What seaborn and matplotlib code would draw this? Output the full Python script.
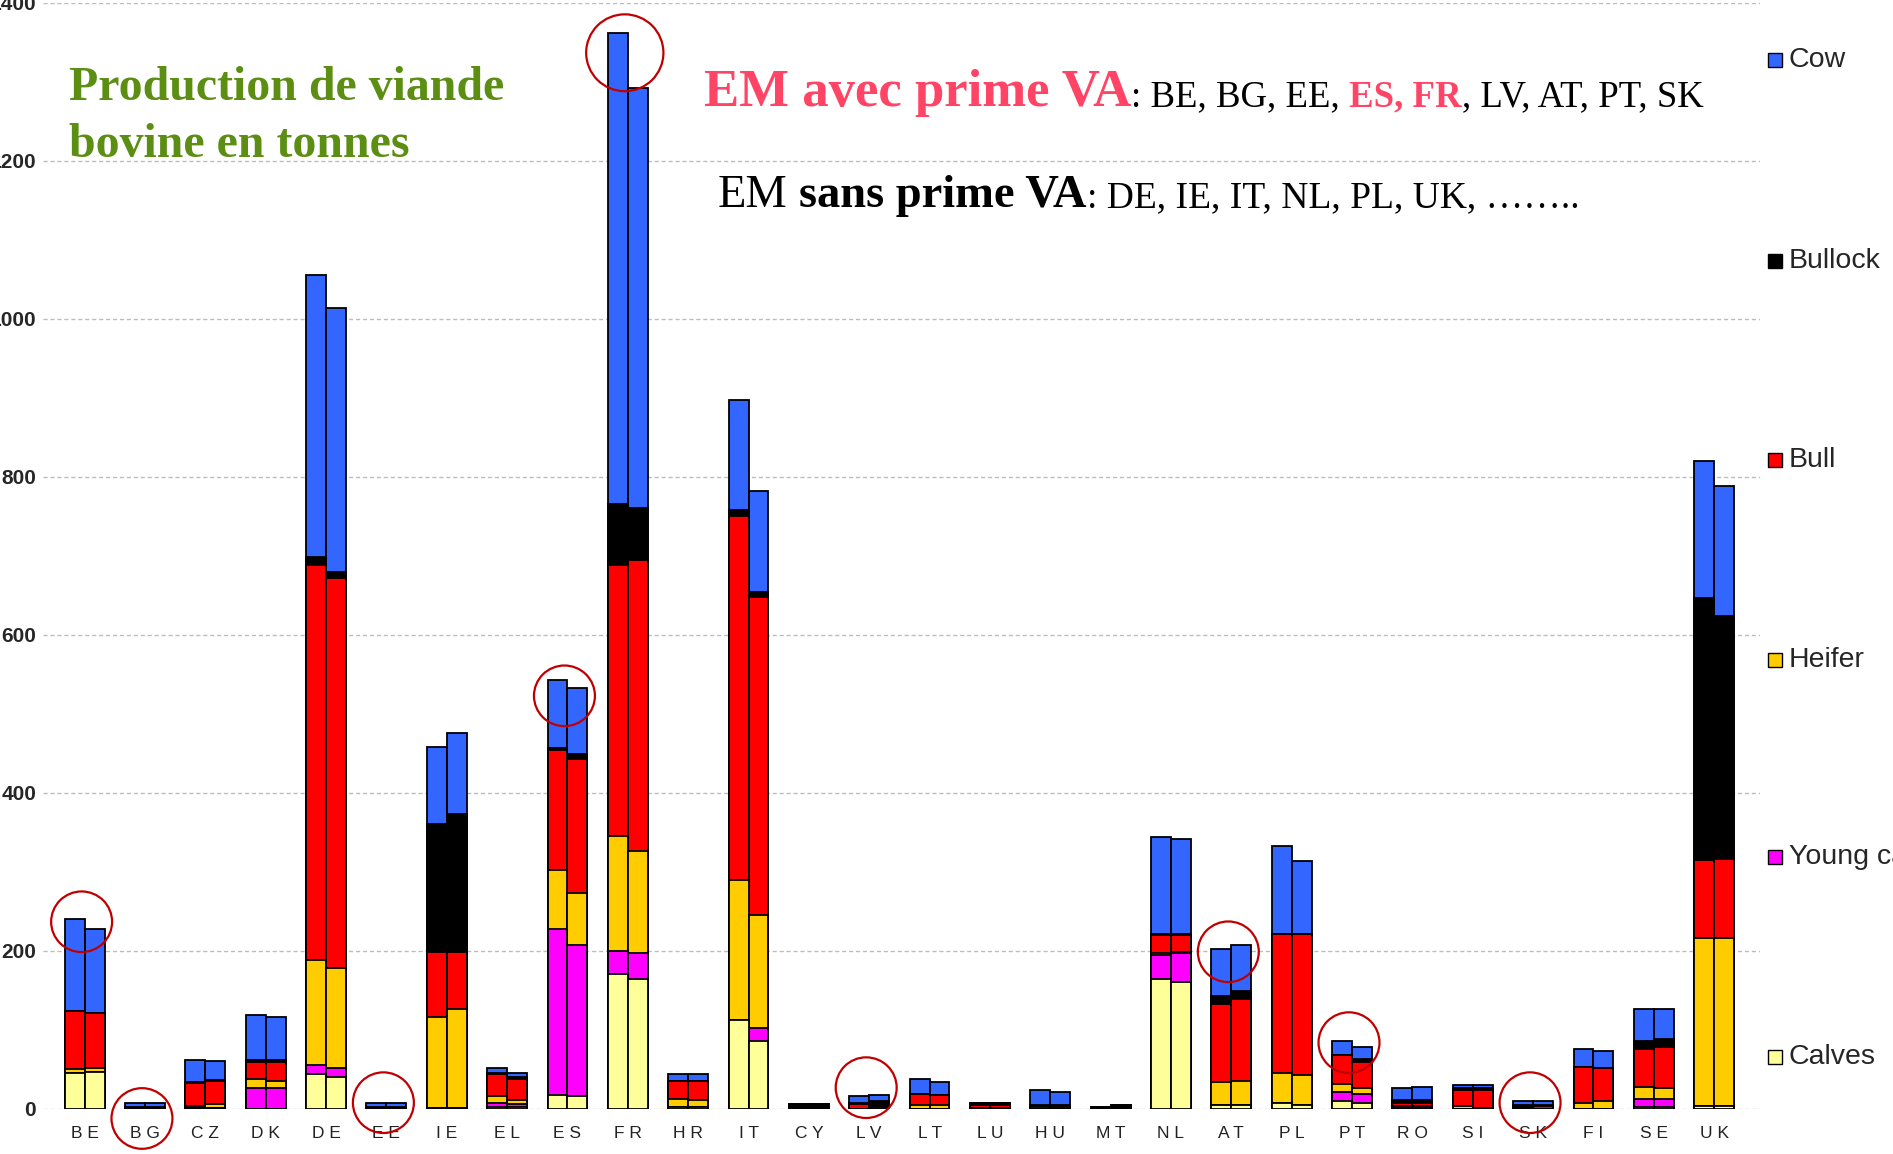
import numpy as np
import pandas as pd
import matplotlib
matplotlib.use("Agg")
import matplotlib.pyplot as plt
from matplotlib.patches import Rectangle, Ellipse
import seaborn as sns

# Production de viande bovine (milliers de tonnes), deux annees par pays
pays = ["BE", "BG", "CZ", "DK", "DE", "EE", "IE", "EL", "ES", "FR", "HR", "IT", "CY", "LV",
        "LT", "LU", "HU", "MT", "NL", "AT", "PL", "PT", "RO", "SI", "SK", "FI", "SE", "UK"]
categories = ["Calves", "Young cattle", "Heifer", "Bull", "Bullock", "Cow"]
couleurs = ["#FFFF99", "#FF00FF", "#FFCC00", "#FF0000", "#000000", "#3366FF"]

# annee 1 (barre de gauche)
calves_1 = [46, 0, 1, 0, 44, 0, 1, 2, 18, 171, 3, 113, 0, 0, 0, 0, 0, 0, 164, 5, 8, 10, 1, 0, 0, 0, 3, 4]
young_1 = [0, 0, 0, 27, 12, 0, 0, 5, 210, 29, 0, 0, 0, 0, 0, 0, 0, 0, 31, 0, 0, 11, 3, 0, 0, 0, 10, 0]
heifer_1 = [5, 0, 3, 11, 132, 0, 116, 9, 74, 146, 10, 177, 0, 0, 5, 1, 2, 0, 3, 29, 38, 11, 0, 4, 0, 8, 15, 212]
bull_1 = [73, 1, 29, 21, 501, 0, 82, 28, 152, 343, 23, 461, 1, 6, 14, 4, 1, 0, 22, 99, 176, 36, 4, 20, 0, 45, 48, 99]
bullock_1 = [0, 2, 1, 3, 10, 2, 162, 2, 3, 77, 0, 7, 5, 2, 0, 3, 2, 3, 2, 10, 0, 0, 4, 2, 5, 0, 10, 332]
cow_1 = [117, 4, 28, 57, 357, 6, 97, 6, 86, 596, 8, 140, 0, 8, 19, 0, 19, 0, 122, 60, 111, 18, 14, 4, 5, 23, 40, 173]

# annee 2 (barre de droite)
calves_2 = [47, 0, 1, 0, 41, 0, 1, 2, 16, 165, 3, 86, 0, 0, 0, 0, 0, 0, 161, 5, 5, 8, 1, 0, 0, 0, 3, 4]
young_2 = [0, 0, 0, 27, 11, 0, 0, 4, 192, 33, 0, 16, 0, 0, 0, 0, 0, 0, 36, 0, 0, 11, 3, 0, 0, 0, 10, 0]
heifer_2 = [5, 0, 5, 9, 126, 0, 126, 6, 66, 129, 8, 144, 0, 0, 5, 1, 1, 0, 2, 31, 38, 8, 0, 1, 0, 10, 14, 212]
bull_2 = [70, 1, 30, 23, 494, 0, 72, 26, 169, 368, 25, 402, 1, 2, 13, 4, 3, 1, 21, 103, 178, 32, 4, 23, 4, 42, 52, 101]
bullock_2 = [0, 2, 1, 3, 8, 2, 174, 2, 6, 66, 0, 6, 5, 8, 0, 3, 1, 4, 2, 10, 0, 4, 4, 2, 1, 0, 9, 307]
cow_2 = [106, 4, 24, 54, 334, 6, 103, 6, 84, 532, 8, 128, 0, 8, 16, 0, 17, 0, 120, 59, 93, 15, 16, 4, 5, 22, 38, 164]

# pays avec prime VA (cercles rouges)
pays_cercle = ["BE", "BG", "EE", "ES", "FR", "LV", "AT", "PT", "SK"]
decal_cercle = [-4, -19, 0, -20, -25, 9, -9, -2, -2]

serie_1 = [calves_1, young_1, heifer_1, bull_1, bullock_1, cow_1]
serie_2 = [calves_2, young_2, heifer_2, bull_2, bullock_2, cow_2]

df = pd.DataFrame({"pays": pays * 2, "annee": ["A1"] * len(pays) + ["A2"] * len(pays)})
for cat, v1, v2 in zip(categories, serie_1, serie_2):
    df[cat] = v1 + v2
cumul = df[categories].cumsum(axis=1)

sns.set_style("white")

W, H = 1893, 1154
fig = plt.figure(figsize=(W / 100, H / 100), dpi=100)
ax = fig.add_axes([43 / W, 45 / H, (1760 - 43) / W, (1151 - 45) / H])

# barres empilees : on dessine les cumuls du plus haut au plus bas
for i in reversed(range(len(categories))):
    sns.barplot(x=df["pays"], y=cumul[categories[i]], hue=df["annee"], order=pays,
                hue_order=["A1", "A2"], palette=[couleurs[i], couleurs[i]], width=0.66,
                gap=0, saturation=1, edgecolor="black", linewidth=1.3, errorbar=None,
                legend=False, ax=ax)

ax.set_ylim(0, 1400)
ax.set_xlim(-0.69, 27.76)
ax.set_yticks(range(0, 1401, 200))
ax.set_xticks(range(len(pays)))
ax.set_xticklabels([" ".join(p) for p in pays], fontsize=12.5, family="Liberation Sans", color="#222222")
ax.set_yticklabels([str(v) for v in range(0, 1401, 200)], fontweight="bold", fontsize=15,
                   family="Liberation Sans")
ax.tick_params(axis="y", length=0, pad=5)
ax.tick_params(axis="x", length=0, pad=12.5)
ax.set_xlabel("")
ax.set_ylabel("")
ax.set_axisbelow(True)
ax.yaxis.grid(True, color="#BDBDBD", linestyle=(0, (3, 2)), linewidth=1)
ax.xaxis.grid(False)
for s in ax.spines.values():
    s.set_visible(False)

# cercles rouges autour des pays avec prime VA
total_1 = cumul["Cow"].values[:len(pays)]
total_2 = cumul["Cow"].values[len(pays):]
for p, dy in zip(pays_cercle, decal_cercle):
    k = pays.index(p)
    haut = max(total_1[k], total_2[k])
    taille = 1.28 if p == "FR" else 1.01
    ax.add_patch(Ellipse((k - 0.05, haut + dy), taille, taille * 76, fill=False,
                         edgecolor="#C00000", linewidth=1.6, clip_on=False, zorder=10))

# titre vert
vert = "#5B8E12"
fig.text(69 / W, 1 - 100 / H, "Production de viande", color=vert, fontsize=34.5,
         fontweight="bold", family="Liberation Serif", va="baseline")
fig.text(69 / W, 1 - 157 / H, "bovine en tonnes", color=vert, fontsize=34.5,
         fontweight="bold", family="Liberation Serif", va="baseline")

# textes EM avec / sans prime VA, morceau par morceau
fig.canvas.draw()
rend = fig.canvas.get_renderer()
rose = "#FF4466"


def ligne(x, y, morceaux):
    for texte, couleur, taille, poids, espace in morceaux:
        x += espace * taille * 100 / 72
        t = fig.text(x / W, 1 - y / H, texte, color=couleur, fontsize=taille, fontweight=poids,
                     family="Liberation Serif", va="baseline")
        x += t.get_window_extent(rend).width


ligne(704, 106, [("EM avec prime VA", rose, 38, "bold", 0),
                 (": BE, BG, EE,", "black", 26.5, "normal", 0),
                 ("ES, FR", rose, 26.5, "bold", 0.25),
                 (", LV, AT, PT, SK", "black", 26.5, "normal", 0)])
ligne(718, 207, [("EM", "black", 33.5, "normal", 0),
                 ("sans prime VA", "black", 33.5, "bold", 0.25),
                 (": DE, IE, IT, NL, PL, UK, \u2026\u2026..", "black", 27, "normal", 0)])

# legende a droite
leg_y = [1057, 857, 660, 460, 261, 60]
for cat, c, yc in zip(categories, couleurs, leg_y):
    fig.add_artist(Rectangle((1768 / W, 1 - (yc + 7) / H), 14 / W, 14 / H, facecolor=c,
                             edgecolor="black", linewidth=1, transform=fig.transFigure))
    fig.text(1789 / W, 1 - yc / H, cat, fontsize=20.5, va="center", family="Liberation Sans")

fig.savefig("out.png", dpi=100)
